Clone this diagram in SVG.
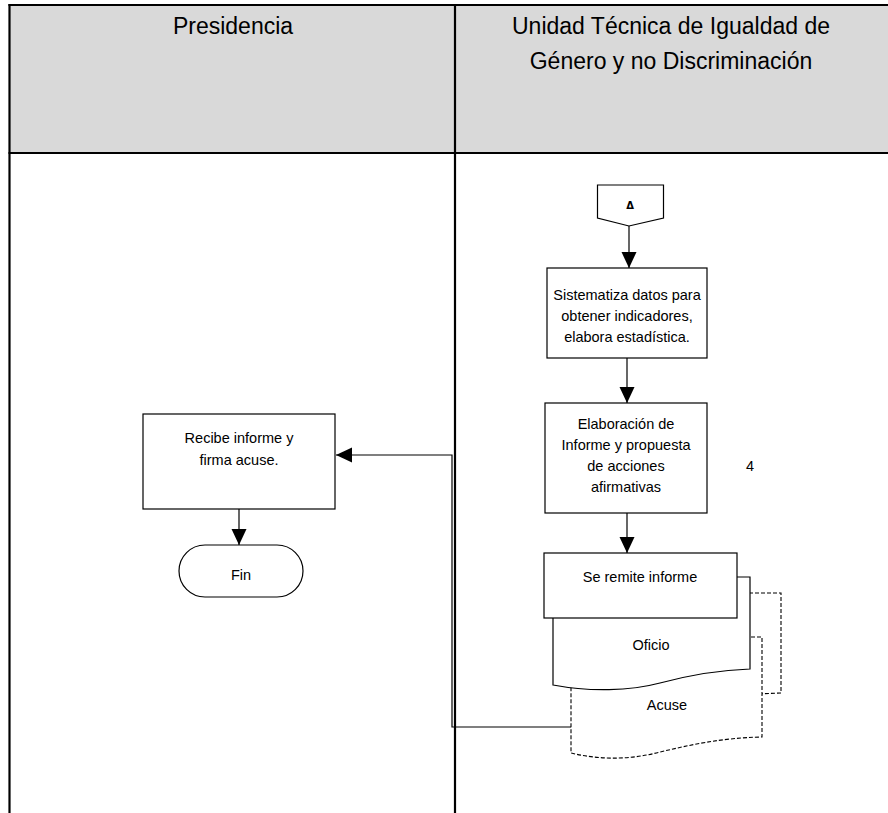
<svg xmlns="http://www.w3.org/2000/svg" width="888" height="813" viewBox="0 0 888 813">
<style>
.hdr{font-family:"Liberation Sans",Arial,sans-serif;font-size:23px;fill:#000;text-anchor:middle}
.t{font-family:"Liberation Sans",Arial,sans-serif;font-size:14.5px;fill:#000;text-anchor:middle}
.box{fill:#fff;stroke:#000;stroke-width:1.2}
.dash{fill:#fff;stroke:#000;stroke-width:1.1;stroke-dasharray:4 2}
.ln{fill:none;stroke:#000;stroke-width:1.2}
.lane{stroke:#000;stroke-width:2.2;fill:none}
</style>
<defs>
<marker id="ah" markerUnits="userSpaceOnUse" markerWidth="16" markerHeight="16" viewBox="0 0 16 16" refX="16" refY="8" orient="auto">
<path d="M0,0.5 L16,8 L0,15.5 Z" fill="#000"/>
</marker>
</defs>
<rect x="0" y="0" width="888" height="813" fill="#fff"/>
<g id="header">
<rect x="9.5" y="5" width="880" height="148" fill="#d9d9d9"/>
<line class="lane" x1="8.5" y1="5" x2="888" y2="5"/>
<line class="lane" x1="9.5" y1="4" x2="9.5" y2="813"/>
<line class="lane" x1="8.5" y1="153" x2="888" y2="153"/>
<line class="lane" x1="455" y1="4" x2="455" y2="813"/>
<text class="hdr" x="233" y="34">Presidencia</text>
<text class="hdr" x="671" y="34">Unidad Técnica de Igualdad de</text>
<text class="hdr" x="671" y="69">Género y no Discriminación</text>
</g>
<g id="connectors">
<line class="ln" x1="629" y1="226" x2="629" y2="268" marker-end="url(#ah)"/>
<line class="ln" x1="627" y1="358" x2="627" y2="403" marker-end="url(#ah)"/>
<line class="ln" x1="627" y1="513" x2="627" y2="553" marker-end="url(#ah)"/>
<polyline class="ln" points="571,727 452,727 452,455 336,455" marker-end="url(#ah)"/>
<line class="ln" x1="239" y1="509" x2="239" y2="545" marker-end="url(#ah)"/>
</g>
<g id="offpage">
<path class="box" d="M597.5,185 H663.5 V218 L629,226 L597.5,218 Z"/>
<text x="630" y="209" font-family="'DejaVu Sans',sans-serif" font-size="10" font-weight="bold" text-anchor="middle">Δ</text>
</g>
<g id="sistematiza">
<rect class="box" x="547" y="268" width="160" height="90"/>
<text class="t" x="627" y="300">Sistematiza datos para</text>
<text class="t" x="627" y="321">obtener indicadores,</text>
<text class="t" x="627" y="342">elabora estadística.</text>
</g>
<g id="elaboracion">
<rect class="box" x="545" y="403" width="162" height="110"/>
<text class="t" x="626" y="429">Elaboración de</text>
<text class="t" x="626" y="450">Informe y propuesta</text>
<text class="t" x="626" y="471">de acciones</text>
<text class="t" x="626" y="492">afirmativas</text>
</g>
<g id="num4">
<text class="t" x="750" y="471">4</text>
</g>
<g id="copia">
<path class="dash" d="M575,593 H781 V693 C740,694 700,700 670,708 C640,716 605,716 575,710 Z"/>
</g>
<g id="acuse">
<path class="dash" d="M571,637 H762 V737 C720,738 690,745 660,752 C630,760 600,760 571,753 Z"/>
<text class="t" x="667" y="710">Acuse</text>
</g>
<g id="oficio">
<path class="box" d="M553,577 H750 V669 C720,670 690,675 660,683 C630,691 590,692 553,685 Z"/>
<text class="t" x="651" y="650">Oficio</text>
</g>
<g id="remite">
<rect class="box" x="544" y="553" width="193" height="65"/>
<text class="t" x="640" y="582">Se remite informe</text>
</g>
<g id="recibe">
<rect class="box" x="143" y="414" width="192" height="95"/>
<text class="t" x="239" y="443">Recibe informe y</text>
<text class="t" x="239" y="465">firma acuse.</text>
</g>
<g id="fin">
<rect class="box" x="179" y="545" width="124" height="52" rx="26" ry="26"/>
<text class="t" x="241" y="580">Fin</text>
</g>
</svg>
